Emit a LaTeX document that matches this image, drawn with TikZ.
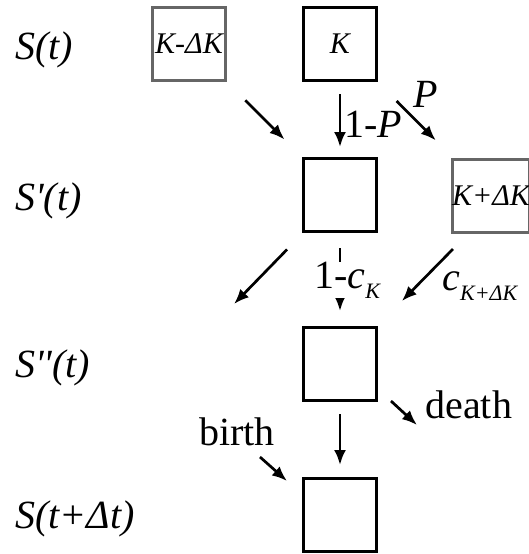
\documentclass[tikz,border=0pt]{standalone}
\usepackage{fontspec}
\setmainfont{Liberation Serif}
\usetikzlibrary{arrows.meta,calc}
\newcommand{\bigsize}{\fontsize{20}{24}\selectfont}
\newcommand{\boxsize}{\fontsize{15}{18}\selectfont}
\newcommand{\idx}[1]{\raisebox{-0.25em}{\fontsize{11}{12}\selectfont\itshape #1}}

\begin{document}
\begin{tikzpicture}[
  x=0.5pt, y=-0.5pt,
  state/.style={draw=black, line width=1.5pt, minimum size=36.5pt, inner sep=0pt, font=\boxsize\itshape},
  shifted/.style={state, draw=black!60},
  stage/.style={font=\bigsize\itshape, anchor=base west, inner sep=0pt},
  rate/.style={font=\bigsize, anchor=base west, inner sep=0pt},
  arrow/.style={-{Latex[length=7.5pt, width=6pt]}, line width=1.35pt}
]
\useasboundingbox (0,0) rectangle (529,554);

% Stage labels
\node[stage] (st0) at (15,59) {S(t)};
\node[stage] (st1) at (15,210) {S\textquotesingle(t)};
\node[stage] (st2) at (15,377) {S\textquotesingle\textquotesingle(t)};
\node[stage] (st3) at (15,528) {S(t+Δt)};

% States
\node[shifted] (kminus) at (189,44) {K-ΔK};
\node[state] (k0) at (340,44) {K};
\node[state] (k1) at (340,195) {};
\node[shifted] (kplus) at (491,196) {K+ΔK};
\node[state] (k2) at (340,364) {};
\node[state] (k3) at (340,515) {};

% Free ends
\coordinate (lostK) at (234,304);
\coordinate (gainK) at (453,249);
\coordinate (deathout) at (391,401);
\coordinate (deathK) at (417,425);
\coordinate (birthin) at (260,457);
\coordinate (birthK) at (287,481);

% Row 1: mutation step
\draw[arrow, shorten <=13pt, shorten >=12.4pt] (kminus) -- (k1);
\draw[arrow, shorten <=6pt, shorten >=5pt] (k0) -- (k1);
\draw[arrow, shorten <=13.4pt, shorten >=12.4pt] (k0) -- (kplus);
\node[rate] (stayP) at (344,137) {1-\textit{P}};
\node[rate] (moveP) at (413,107) {\textit{P}};

% Row 2: competition step
\draw[arrow, shorten <=11.5pt] (k1) -- (lostK);
\draw[arrow, shorten <=7.5pt, shorten >=7.5pt] (k1) -- (k2);
\draw[arrow, shorten >=17.5pt] (gainK) -- (k2);
\node[rate, fill=white] (stayC) at (314,288) {1-\textit{c}\idx{K}};
\node[rate] (moveC) at (442,290) {\textit{c}\idx{K+ΔK}};

% Row 3: birth and death
\draw[arrow] (deathout) -- (deathK);
\draw[arrow, shorten <=6pt, shorten >=6pt] (k2) -- (k3);
\draw[arrow] (birthin) -- (birthK);
\node[rate] (death) at (425,418) {death};
\node[rate] (birth) at (199,445) {birth};

\end{tikzpicture}
\end{document}
